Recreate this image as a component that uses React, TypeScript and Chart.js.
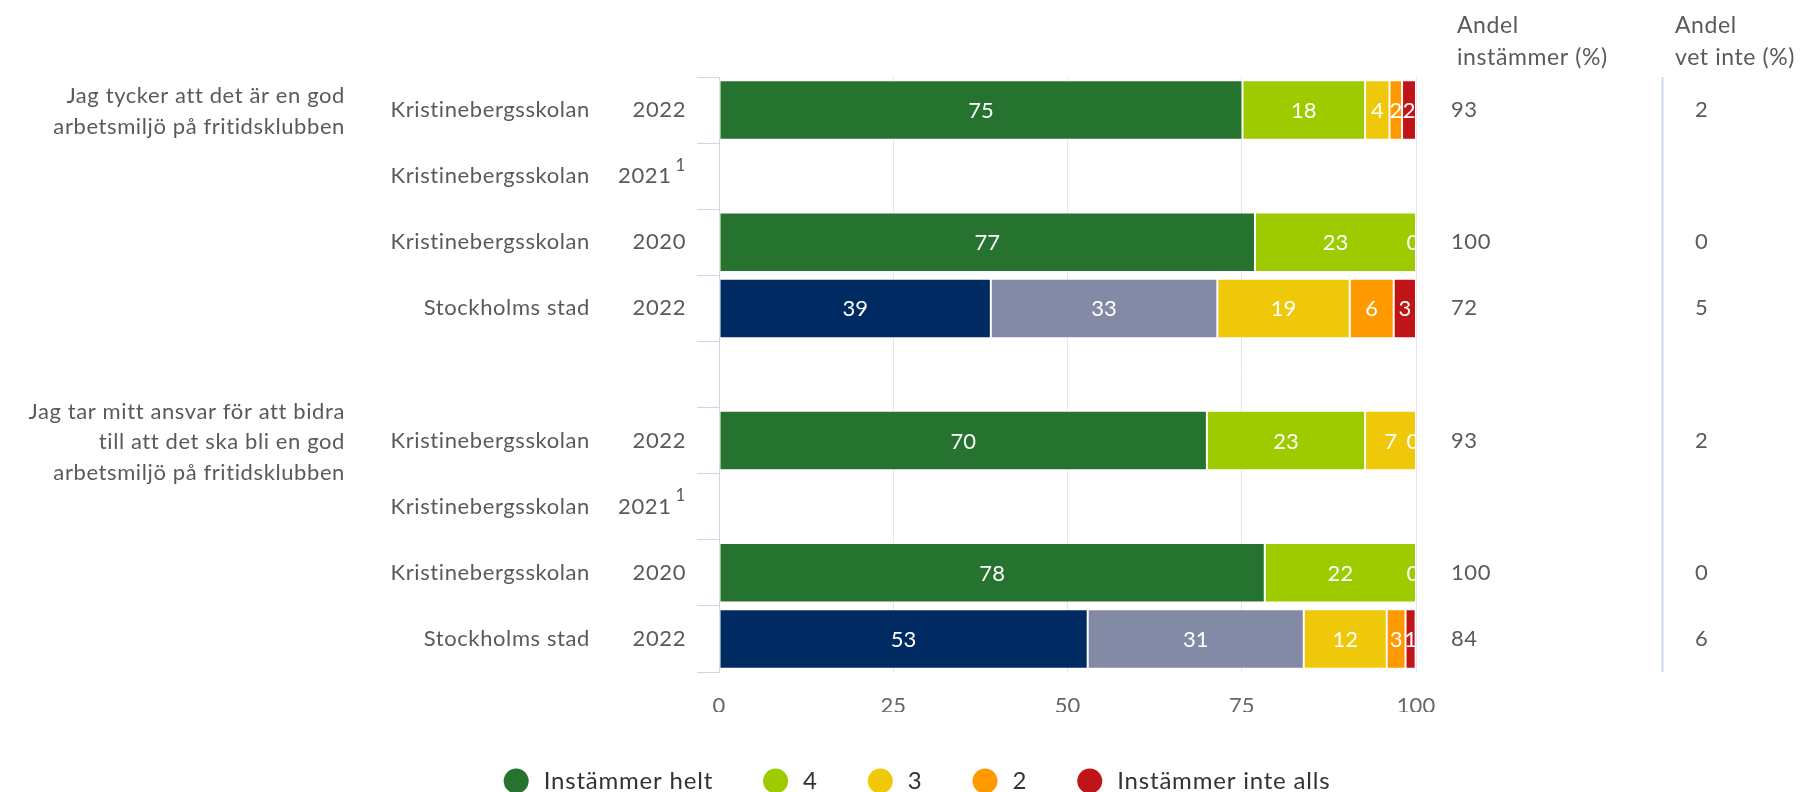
import React, { useEffect, useRef } from 'react';
import { Chart, registerables } from 'chart.js';

Chart.register(...registerables);

const FONT = 'Lato, "Noto Sans", sans-serif';

// ---------- data ----------
const rowNames = [
  'Kristinebergsskolan',
  'Kristinebergsskolan',
  'Kristinebergsskolan',
  'Stockholms stad',
  '',
  'Kristinebergsskolan',
  'Kristinebergsskolan',
  'Kristinebergsskolan',
  'Stockholms stad',
];
const rowYears = ['2022', '2021', '2020', '2022', '', '2022', '2021', '2020', '2022'];
const rowNotes = ['', '1', '', '', '', '', '1', '', ''];

const groupLabels = [
  ['Jag tycker att det är en god', 'arbetsmiljö på fritidsklubben'],
  ['Jag tar mitt ansvar för att bidra', 'till att det ska bli en god', 'arbetsmiljö på fritidsklubben'],
];
const groupFirstRow = [0, 5];

const seriesNames = ['Instämmer helt', '4', '3', '2', 'Instämmer inte alls'];
const seriesColors = ['#26732f', '#9dcb00', '#f0c80a', '#ff9900', '#c01518'];
const cityColors = ['#002b62', '#828aa6'];

const instammerHelt = [75.1, null, 76.9, 39.0, null, 70.0, null, 78.3, 52.9];
const svar4 = [17.6, null, 23.1, 32.5, null, 22.7, null, 21.7, 31.0];
const svar3 = [3.5, null, 0, 19.0, null, 7.3, null, 0, 11.9];
const svar2 = [1.8, null, null, 6.3, null, 0, null, null, 2.7];
const instammerInteAlls = [2.0, null, null, 3.2, null, null, null, null, 1.45];

const andelInstammer = ['93', '', '100', '72', '', '93', '', '100', '84'];
const andelVetInte = ['2', '', '0', '5', '', '2', '', '0', '6'];
const columnHeaders = [
  ['Andel', 'instämmer (%)'],
  ['Andel', 'vet inte (%)'],
];

const xMin = 0;
const xMax = 100;
const xStep = 25;

// ---------- layout / style constants ----------
const W = 1788;
const H = 784;
const LABEL_COLOR = '#5a5a5a';
const LEGEND_COLOR = '#333333';
const TEXT_SIZE = 22;
const SPACING = '0.6px';
const GROUP_RIGHT = 337;
const NAME_RIGHT = 582;
const YEAR_RIGHT = 678;
const COL1_LEFT = 1443;
const COL2_LEFT = 1687;
const COL_SEP_X = 1654.5;
const HEADER_Y = [17.5, 50];
const LEGEND_Y = 773;
const LEGEND_CENTER = 909;

const isCity = rowNames.map((n) => n === 'Stockholms stad');

const overlayPlugin = {
  id: 'overlay',
  afterDatasetsDraw(chart: any) {
    const ctx = chart.ctx;
    const area = chart.chartArea;
    ctx.save();
    ctx.beginPath();
    ctx.rect(area.left, area.top, area.right - area.left, area.bottom - area.top);
    ctx.clip();
    ctx.font = `22px ${FONT}`;
    ctx.fillStyle = '#ffffff';
    ctx.textAlign = 'center';
    ctx.textBaseline = 'middle';
    chart.data.datasets.forEach((ds: any, di: number) => {
      const meta = chart.getDatasetMeta(di);
      meta.data.forEach((el: any, i: number) => {
        const v = ds.data[i];
        if (v === null || v === undefined) return;
        const p = el.getProps(['x', 'base', 'y'], true);
        let cx = (p.x + p.base) / 2;
        if (v === 0) cx -= 3;
        ctx.fillText(String(Math.round(v)), cx, p.y + 1);
      });
    });
    ctx.restore();
  },
  afterDraw(chart: any) {
    const ctx = chart.ctx;
    const ys = chart.scales.y;
    const area = chart.chartArea;
    ctx.save();
    ctx.textBaseline = 'middle';
    try {
      (ctx as any).letterSpacing = SPACING;
    } catch (e) {
      /* ignore */
    }
    const mainFont = `${TEXT_SIZE}px ${FONT}`;

    // group labels
    ctx.fillStyle = LABEL_COLOR;
    ctx.font = mainFont;
    ctx.textAlign = 'right';
    groupLabels.forEach((lines, g) => {
      const cy = ys.getPixelForValue(groupFirstRow[g]) + 1.5;
      const lh = 30.5;
      const start = cy - ((lines.length - 1) * lh) / 2;
      lines.forEach((t, k) => ctx.fillText(t, GROUP_RIGHT, start + k * lh));
    });

    // row labels
    rowNames.forEach((name, i) => {
      const y = ys.getPixelForValue(i);
      ctx.font = mainFont;
      ctx.textAlign = 'right';
      if (name) ctx.fillText(name, NAME_RIGHT, y);
      const year = rowYears[i];
      if (!year) return;
      const note = rowNotes[i];
      if (note) {
        ctx.font = `17px ${FONT}`;
        const nw = ctx.measureText(note).width;
        ctx.fillText(note, YEAR_RIGHT, y - 11);
        ctx.font = mainFont;
        ctx.fillText(year, YEAR_RIGHT - nw - 4, y);
      } else {
        ctx.fillText(year, YEAR_RIGHT, y);
      }
    });

    // right columns
    ctx.textAlign = 'left';
    ctx.font = `23px ${FONT}`;
    columnHeaders[0].forEach((t, k) => ctx.fillText(t, COL1_LEFT + 6, HEADER_Y[k]));
    columnHeaders[1].forEach((t, k) => ctx.fillText(t, COL2_LEFT - 20, HEADER_Y[k]));
    ctx.font = mainFont;
    rowNames.forEach((_, i) => {
      const y = ys.getPixelForValue(i);
      if (andelInstammer[i]) ctx.fillText(andelInstammer[i], COL1_LEFT, y);
      if (andelVetInte[i]) ctx.fillText(andelVetInte[i], COL2_LEFT, y);
    });
    ctx.strokeStyle = '#cdd7ec';
    ctx.lineWidth = 2;
    ctx.beginPath();
    ctx.moveTo(COL_SEP_X, area.top);
    ctx.lineTo(COL_SEP_X, area.bottom);
    ctx.stroke();

    // legend
    ctx.font = `24px ${FONT}`;
    try {
      (ctx as any).letterSpacing = '0.8px';
    } catch (e) {
      /* ignore */
    }
    const d = 25;
    const gap = 15;
    const between = 50;
    const widths = seriesNames.map((n) => ctx.measureText(n).width);
    const total =
      widths.reduce((s, w) => s + d + gap + w, 0) + between * (seriesNames.length - 1);
    let x = LEGEND_CENTER - total / 2;
    seriesNames.forEach((n, k) => {
      ctx.fillStyle = seriesColors[k];
      ctx.beginPath();
      ctx.arc(x + d / 2, LEGEND_Y, d / 2, 0, Math.PI * 2);
      ctx.fill();
      ctx.fillStyle = LEGEND_COLOR;
      ctx.fillText(n, x + d + gap, LEGEND_Y);
      x += d + gap + widths[k] + between;
    });
    ctx.restore();
  },
};

export default function App() {
  const ref = useRef<HTMLCanvasElement | null>(null);

  useEffect(() => {
    document.body.style.margin = '0';
    if (!ref.current) return;
    const seriesData = [instammerHelt, svar4, svar3, svar2, instammerInteAlls];
    const datasets = seriesData.map((data, k) => ({
      label: seriesNames[k],
      data,
      backgroundColor: data.map((_, i) =>
        isCity[i] && k < 2 ? cityColors[k] : seriesColors[k]
      ),
      borderColor: '#ffffff',
      borderWidth: 1,
      borderSkipped: false,
      barPercentage: 0.9,
      categoryPercentage: 1,
    }));

    const chart = new Chart(ref.current, {
      type: 'bar',
      data: { labels: rowNames.map((n, i) => `${n} ${rowYears[i]}`), datasets },
      options: {
        indexAxis: 'y',
        responsive: false,
        animation: false,
        layout: { padding: { left: 689, right: 380, top: 69, bottom: 80 } },
        plugins: {
          legend: { display: false },
          tooltip: { enabled: false },
        },
        scales: {
          x: {
            type: 'linear',
            stacked: true,
            min: xMin,
            max: xMax,
            ticks: {
              stepSize: xStep,
              color: '#666666',
              font: { size: 22, family: FONT },
              padding: 21,
            },
            grid: { color: '#e6e6e6', drawTicks: false },
            border: { display: false },
            afterFit: (s: any) => {
              s.height = 40;
            },
          },
          y: {
            type: 'category',
            stacked: true,
            ticks: { display: false },
            grid: {
              display: true,
              drawOnChartArea: false,
              drawTicks: true,
              tickLength: 22,
              color: '#ccd6eb',
              offset: true,
            },
            border: { display: true, color: '#ccd6eb' },
            afterFit: (s: any) => {
              s.width = 22;
            },
          },
        },
      } as any,
      plugins: [overlayPlugin],
    });
    return () => chart.destroy();
  }, []);

  return (
    <canvas
      ref={ref}
      width={W}
      height={H}
      style={{ display: 'block', width: W, height: H, margin: '8px 0 0 8px' }}
    />
  );
}
